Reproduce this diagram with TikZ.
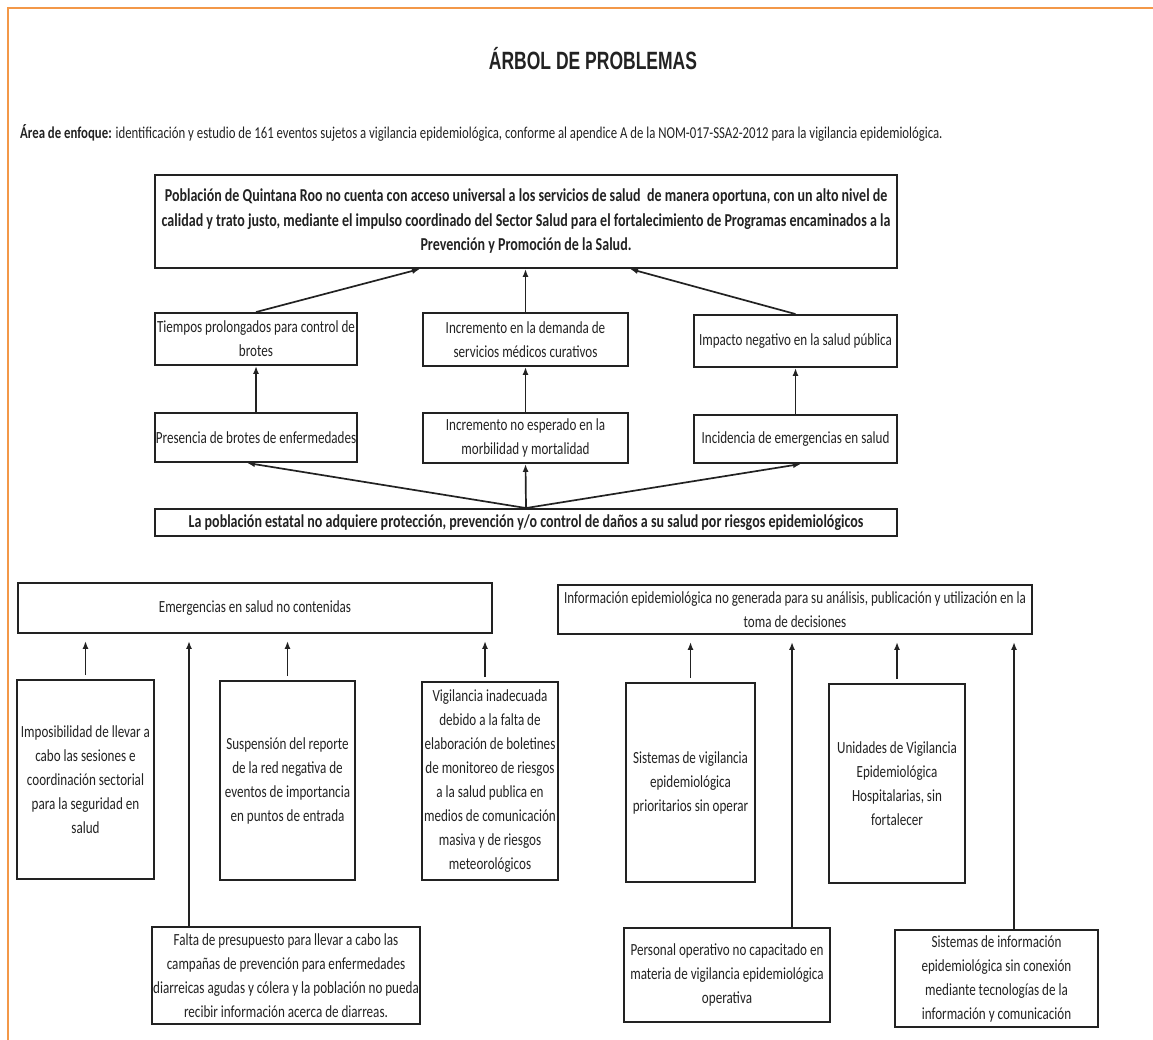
\documentclass[tikz,border=0pt]{standalone}
\usepackage{fontspec}
\usetikzlibrary{arrows.meta}
\newfontfamily\bodyfont{Carlito}[FakeStretch=0.77]
\newfontfamily\titlefont{Liberation Sans}[FakeStretch=0.70]
\definecolor{ink}{RGB}{34,34,34}
\definecolor{framecol}{RGB}{243,152,72}
\begin{document}
\begin{tikzpicture}[x=1pt,y=-1pt,
  box/.style={draw=ink, line width=1.9pt, fill=white, inner sep=0pt, align=center, text=ink,
    font=\bodyfont\fontsize{17}{24}\selectfont},
  bbox/.style={box, font=\bodyfont\bfseries\fontsize{18.2}{24.5}\selectfont},
  arr/.style={draw=ink, line width=1.7pt, -{Latex[length=8pt,width=6pt]}},
  sarr/.style={arr, shorten <=4pt, shorten >=7pt}
]
\useasboundingbox (0,0) rectangle (1153,1040);
\draw[framecol, line width=2pt] (8,1040) -- (8,8) -- (1153,8);

\node[text=ink, font=\titlefont\bfseries\fontsize{25}{30}\selectfont] (title) at (593,59) {ÁRBOL DE PROBLEMAS};
\node[anchor=west, inner sep=0pt, text=ink, font=\bodyfont\fontsize{16.6}{20}\selectfont] (focus) at (20,133)
  {\textbf{Área de enfoque:} identificación y estudio de 161 eventos sujetos a vigilancia epidemiológica, conforme al apendice A de la NOM-017-SSA2-2012 para la vigilancia epidemiológica.};

% upper tree
\node[bbox, minimum width=742, minimum height=93] (T) at (526,221.5)
  {Población de Quintana Roo no cuenta con acceso universal a los servicios de salud\ \ de manera oportuna, con un alto nivel de\\
   calidad y trato justo, mediante el impulso coordinado del Sector Salud para el fortalecimiento de Programas encaminados a la\\
   Prevención y Promoción de la Salud.};

\node[box, minimum width=202, minimum height=52] (A1) at (256,339) {Tiempos prolongados para control de\\brotes};
\node[box, minimum width=205, minimum height=53] (A2) at (525.5,339.5) {Incremento en la demanda de\\servicios médicos curativos};
\node[box, minimum width=203, minimum height=52] (A3) at (795.5,341) {Impacto negativo en la salud pública};

\node[box, minimum width=202, minimum height=49] (B1) at (256,437.5) {Presencia de brotes de enfermedades};
\node[box, minimum width=205, minimum height=50] (B2) at (525.5,438) {Incremento no esperado en la\\morbilidad y mortalidad};
\node[box, minimum width=203, minimum height=48] (B3) at (795.5,439) {Incidencia de emergencias en salud};

\node[bbox, minimum width=742, minimum height=27] (C) at (526,522.5)
  {La población estatal no adquiere protección, prevención y/o control de daños a su salud por riesgos epidemiológicos};

\draw[arr] (A1.north) -- (T.south -| 420,0);
\draw[arr] (A2.north) -- (T.south -| A2.north);
\draw[arr] (A3.north) -- (T.south -| 630,0);

\draw[arr] (B1.north) -- (A1.south);
\draw[arr] (B2.north) -- (A2.south);
\draw[arr] (B3.north) -- (A3.south);

\draw[arr] (C.north) -- (B1.south -| 247,0);
\draw[arr] (C.north) -- (B2.south);
\draw[arr] (C.north) -- (B3.south -| 801,0);

% lower left
\node[box, minimum width=474, minimum height=50] (D) at (255,608) {Emergencias en salud no contenidas};
\node[box, minimum width=137, minimum height=199] (D1) at (85.5,779.5)
  {Imposibilidad de llevar a\\cabo las sesiones e\\coordinación sectorial\\para la seguridad en\\salud};
\node[box, minimum width=135, minimum height=199] (D2) at (287.5,780.5)
  {Suspensión del reporte\\de la red negativa de\\eventos de importancia\\en puntos de entrada};
\node[box, minimum width=136, minimum height=198] (D3) at (490,781)
  {Vigilancia inadecuada\\debido a la falta de\\elaboración de boletines\\de monitoreo de riesgos\\a la salud publica en\\medios de comunicación\\masiva y de riesgos\\meteorológicos};
\node[box, minimum width=268, minimum height=97] (D4) at (286,975.5)
  {Falta de presupuesto para llevar a cabo las\\campañas de prevención para enfermedades\\diarreicas agudas y cólera y la población no pueda\\recibir información acerca de diarreas.};
\coordinate (d4top) at (189,927);

\draw[sarr] (D1.north) -- (D.south -| D1.north);
\draw[sarr] (D2.north) -- (D.south -| D2.north);
\draw[sarr] (D3.north -| 485,0) -- (D.south -| 485,0);
\draw[arr, shorten >=7pt] (D4.north -| d4top) -- (D.south -| d4top);

% lower right
\node[box, minimum width=474, minimum height=49] (E) at (795,609.5)
  {Información epidemiológica no generada para su análisis, publicación y utilización en la\\toma de decisiones};
\node[box, minimum width=129, minimum height=199] (E1) at (690.5,782.5)
  {Sistemas de vigilancia\\epidemiológica\\prioritarios sin operar};
\node[box, minimum width=136, minimum height=199] (E2) at (897,783.5)
  {Unidades de Vigilancia\\Epidemiológica\\Hospitalarias, sin\\fortalecer};
\node[box, minimum width=206, minimum height=94] (E3) at (727,975)
  {Personal operativo no capacitado en\\materia de vigilancia epidemiológica\\operativa};
\node[box, minimum width=203, minimum height=97] (E4) at (996.5,978.5)
  {Sistemas de información\\epidemiológica sin conexión\\mediante tecnologías de la\\información y comunicación};
\coordinate (e3top) at (792,928);
\coordinate (e4top) at (1014,930);

\draw[sarr] (E1.north) -- (E.south -| E1.north);
\draw[sarr] (E2.north) -- (E.south -| E2.north);
\draw[arr, shorten >=7pt] (E3.north -| e3top) -- (E.south -| e3top);
\draw[arr, shorten >=7pt] (E4.north -| e4top) -- (E.south -| e4top);
\end{tikzpicture}
\end{document}
